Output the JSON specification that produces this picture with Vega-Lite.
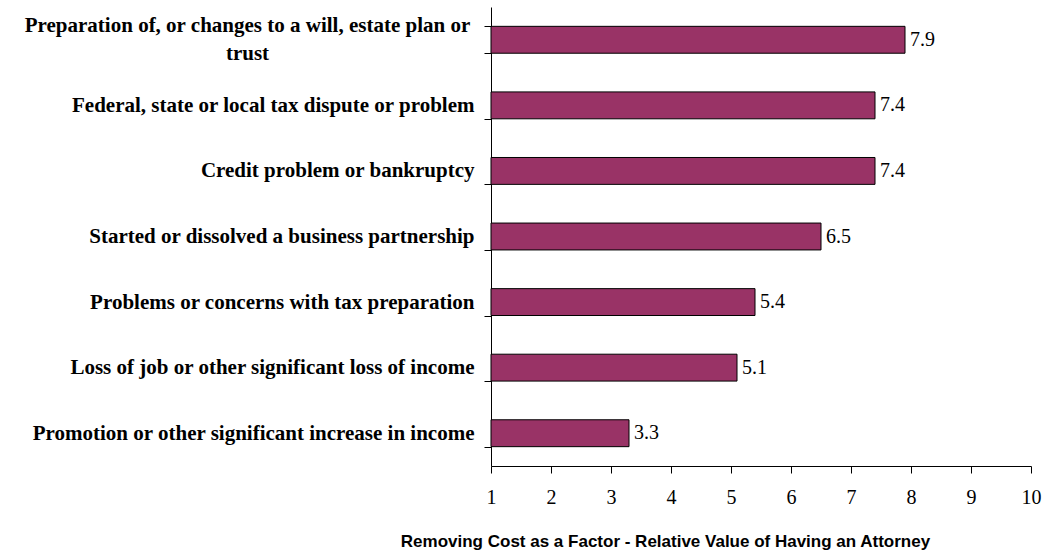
{
  "$schema": "https://vega.github.io/schema/vega-lite/v6.json",
  "width": 540,
  "height": 459,
  "autosize": "none",
  "padding": {"left": 491, "top": 7, "right": 12, "bottom": 86},
  "background": "white",
  "config": {"view": {"stroke": null}},
  "data": {
    "values": [
      {"event": "Preparation of, or changes to a will, estate plan or trust", "value": 7.9},
      {"event": "Federal, state or local tax dispute or problem", "value": 7.4},
      {"event": "Credit problem or bankruptcy", "value": 7.4},
      {"event": "Started or dissolved a business partnership", "value": 6.5},
      {"event": "Problems or concerns with tax preparation", "value": 5.4},
      {"event": "Loss of job or other significant loss of income", "value": 5.1},
      {"event": "Promotion or other significant increase in income", "value": 3.3}
    ]
  },
  "encoding": {
    "y": {
      "field": "event",
      "type": "nominal",
      "sort": null,
      "scale": {"paddingInner": 0.59, "paddingOuter": 0.295},
      "axis": {
        "title": null,
        "domainColor": "black",
        "tickColor": "black",
        "tickSize": 7,
        "tickBand": "extent",
        "labelFont": "Liberation Serif",
        "labelFontWeight": "bold",
        "labelFontSize": 21,
        "labelColor": "black",
        "labelLimit": 500,
        "labelLineHeight": 28,
        "labelPadding": {"condition": {"test": "datum.value === 'Preparation of, or changes to a will, estate plan or trust'", "value": 237}, "value": 10},
        "labelAlign": {"condition": {"test": "datum.value === 'Preparation of, or changes to a will, estate plan or trust'", "value": "center"}, "value": "right"},
        "labelOffset": {"condition": {"test": "datum.value === 'Preparation of, or changes to a will, estate plan or trust'", "value": -14}, "value": 0},
        "labelExpr": "datum.label === 'Preparation of, or changes to a will, estate plan or trust' ? ['Preparation of, or changes to a will, estate plan or', 'trust'] : datum.label"
      }
    }
  },
  "layer": [
    {
      "mark": {"type": "bar", "fill": "#993366", "stroke": "black", "strokeWidth": 1},
      "encoding": {
        "x": {
          "field": "value",
          "type": "quantitative",
          "scale": {"domain": [1, 10], "zero": false, "nice": false},
          "axis": {
            "title": "Removing Cost as a Factor - Relative Value of Having an Attorney",
            "values": [1, 2, 3, 4, 5, 6, 7, 8, 9, 10],
            "format": "d",
            "grid": false,
            "domainColor": "black",
            "tickColor": "black",
            "tickSize": 7,
            "labelFont": "Liberation Serif",
            "labelFontSize": 20,
            "labelColor": "black",
            "labelPadding": 14,
            "labelFlush": false,
            "titleFont": "Liberation Sans",
            "titleFontWeight": "bold",
            "titleFontSize": 17,
            "titleColor": "black",
            "titleX": 174,
            "titleY": 80,
            "titleAlign": "center",
            "titleBaseline": "alphabetic",
            "titleAnchor": null
          }
        },
        "x2": {"datum": 1}
      }
    },
    {
      "mark": {"type": "text", "align": "left", "baseline": "middle", "dx": 5, "font": "Liberation Serif", "fontSize": 20, "color": "black"},
      "encoding": {
        "x": {"field": "value", "type": "quantitative"},
        "text": {"field": "value", "type": "quantitative", "format": ".1f"}
      }
    }
  ]
}
